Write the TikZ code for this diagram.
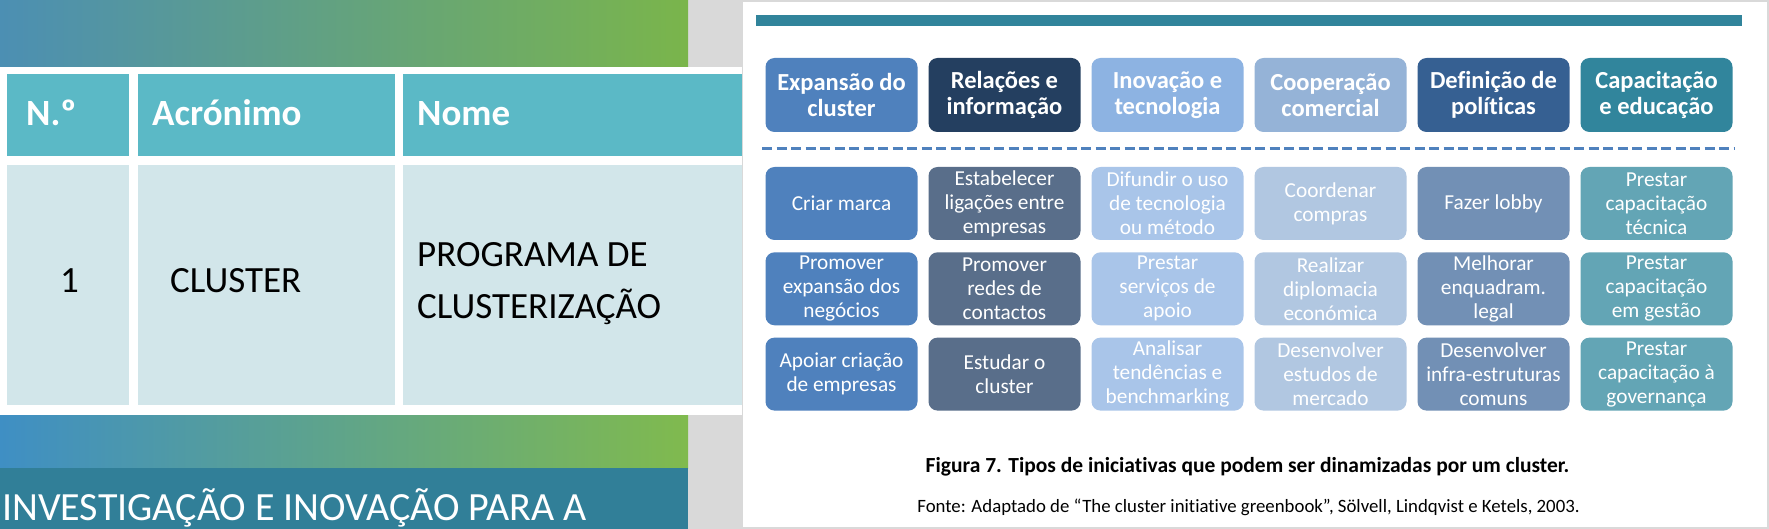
\documentclass[tikz,border=0pt]{standalone}
\usepackage{fontspec}
\setmainfont{Carlito}[Ligatures=NoCommon]
\usepackage{xcolor}
\usepackage{tikz}

\definecolor{slideteal}{HTML}{317F98}
\definecolor{topleft}{HTML}{4C8FB3}
\definecolor{topmid}{HTML}{62A35C}
\definecolor{topright}{HTML}{7AB54B}
\definecolor{lowleft}{HTML}{3F8FC4}
\definecolor{lowmid}{HTML}{55998C}
\definecolor{lowright}{HTML}{80BA4E}
\definecolor{headcyan}{HTML}{5BB9C6}
\definecolor{bodycyan}{HTML}{D2E6EA}
\definecolor{panelgray}{HTML}{D9D9D9}
\definecolor{barteal}{HTML}{31849B}
\definecolor{dashblue}{HTML}{4F81BD}
\definecolor{catA}{HTML}{4F81BD}
\definecolor{catB}{HTML}{243F60}
\definecolor{catC}{HTML}{8DB3E2}
\definecolor{catD}{HTML}{95B3D7}
\definecolor{catE}{HTML}{366092}
\definecolor{catF}{HTML}{31859C}
\definecolor{iniA}{HTML}{4F81BD}
\definecolor{iniB}{HTML}{596E8A}
\definecolor{iniC}{HTML}{A9C5E9}
\definecolor{iniD}{HTML}{B1C7E1}
\definecolor{iniE}{HTML}{7290B5}
\definecolor{iniF}{HTML}{63A5B5}

\begin{document}
\begin{tikzpicture}[x=1pt, y=-1pt, node distance=163pt]

% Defined styles
\tikzstyle{category} = [rectangle, rounded corners=9pt, minimum width=152pt, minimum height=74pt, inner sep=0pt, align=center, text=white, font=\bfseries\fontsize{24.5}{26.5}\selectfont]
\tikzstyle{initiative} = [rectangle, rounded corners=9pt, minimum width=152pt, minimum height=73pt, inner sep=0pt, align=center, text=white, font=\fontsize{21.3}{24}\selectfont]
\tikzstyle{cell} = [anchor=base west, inner sep=0pt, font=\fontsize{37}{44}\selectfont]
\tikzstyle{headcell} = [cell, text=white, font=\bfseries\fontsize{37}{44}\selectfont]

\useasboundingbox (0,0) rectangle (1769,529);

% --- Backgrounds ---
\fill[panelgray] (688,0) rectangle (1769,529);
\fill[white] (743,2) rectangle (1767,527);
\shade[left color=topleft, middle color=topmid, right color=topright] (0,0) rectangle (688,67);
\shade[left color=lowleft, middle color=lowmid, right color=lowright] (0,415) rectangle (688,468);
\fill[slideteal] (0,468) rectangle (688,529);

% --- Slide table ---
\fill[white] (0,67) rectangle (742,415);
\fill[headcyan] (7,74) rectangle (129,156);
\fill[headcyan] (138,74) rectangle (395,156);
\fill[headcyan] (403,74) rectangle (742,156);
\fill[bodycyan] (7,165) rectangle (129,405);
\fill[bodycyan] (138,165) rectangle (395,405);
\fill[bodycyan] (403,165) rectangle (742,405);

\node (numhead) [headcell] at (26,126) {N.º};
\node (acrhead) [headcell] at (152,126) {Acrónimo};
\node (namehead) [headcell] at (417,126) {Nome};
\node (num1) [cell] at (60,293) {1};
\node (acr1) [cell] at (170,293) {CLUSTER};
\node (name1) [cell] at (417,267) {PROGRAMA DE};
\node (name2) [cell] at (417,318) {CLUSTERIZAÇÃO};
\node (slidetitle) [anchor=base west, inner sep=0pt, text=white, font=\fontsize{40}{48}\selectfont] at (2,520) {INVESTIGAÇÃO E INOVAÇÃO PARA A};

% --- Figure ---
\fill[barteal] (756,15) rectangle (1742,26);

% Row of categories (left to right)
\node (cat1) [category, fill=catA] at (841.5,95) {Expansão do\\cluster};
\node (cat2) [category, fill=catB, right of=cat1] {Relações e\\informação};
\node (cat3) [category, fill=catC, right of=cat2] {Inovação e\\tecnologia};
\node (cat4) [category, fill=catD, right of=cat3] {Cooperação\\comercial};
\node (cat5) [category, fill=catE, right of=cat4] {Definição de\\políticas};
\node (cat6) [category, fill=catF, right of=cat5] {Capacitação\\e educação};

\draw[dashblue, line width=3pt, dash pattern=on 10pt off 4.5pt] (762,149) -- (1735,149);

% --- Column 1 ---
\node (ini11) [initiative, fill=iniA, below of=cat1, node distance=108.5pt] {Criar marca};
\node (ini12) [initiative, fill=iniA, below of=ini11, node distance=85.3pt] {Promover\\expansão dos\\negócios};
\node (ini13) [initiative, fill=iniA, below of=ini12, node distance=85.3pt] {Apoiar criação\\de empresas};

% --- Column 2 ---
\node (ini21) [initiative, fill=iniB, below of=cat2, node distance=108.5pt] {Estabelecer\\ligações entre\\empresas};
\node (ini22) [initiative, fill=iniB, below of=ini21, node distance=85.3pt] {Promover\\redes de\\contactos};
\node (ini23) [initiative, fill=iniB, below of=ini22, node distance=85.3pt] {Estudar o\\cluster};

% --- Column 3 ---
\node (ini31) [initiative, fill=iniC, below of=cat3, node distance=108.5pt] {Difundir o uso\\de tecnologia\\ou método};
\node (ini32) [initiative, fill=iniC, below of=ini31, node distance=85.3pt] {Prestar\\serviços de\\apoio};
\node (ini33) [initiative, fill=iniC, below of=ini32, node distance=85.3pt] {Analisar\\tendências e\\benchmarking};

% --- Column 4 ---
\node (ini41) [initiative, fill=iniD, below of=cat4, node distance=108.5pt] {Coordenar\\compras};
\node (ini42) [initiative, fill=iniD, below of=ini41, node distance=85.3pt] {Realizar\\diplomacia\\económica};
\node (ini43) [initiative, fill=iniD, below of=ini42, node distance=85.3pt] {Desenvolver\\estudos de\\mercado};

% --- Column 5 ---
\node (ini51) [initiative, fill=iniE, below of=cat5, node distance=108.5pt] {Fazer lobby};
\node (ini52) [initiative, fill=iniE, below of=ini51, node distance=85.3pt] {Melhorar\\enquadram.\\legal};
\node (ini53) [initiative, fill=iniE, below of=ini52, node distance=85.3pt] {Desenvolver\\infra-estruturas\\comuns};

% --- Column 6 ---
\node (ini61) [initiative, fill=iniF, below of=cat6, node distance=108.5pt] {Prestar\\capacitação\\técnica};
\node (ini62) [initiative, fill=iniF, below of=ini61, node distance=85.3pt] {Prestar\\capacitação\\em gestão};
\node (ini63) [initiative, fill=iniF, below of=ini62, node distance=85.3pt] {Prestar\\capacitação à\\governança};

% --- Caption ---
\node (caption) [anchor=base, inner sep=0pt, font=\bfseries\fontsize{21.5}{25}\selectfont] at (1247.5,472) {Figura 7. Tipos de iniciativas que podem ser dinamizadas por um cluster.};
\node (source) [anchor=base, inner sep=0pt, font=\fontsize{18.8}{22}\selectfont] at (1248.5,512) {Fonte: Adaptado de “The cluster initiative greenbook”, Sölvell, Lindqvist e Ketels, 2003.};

\end{tikzpicture}
\end{document}
